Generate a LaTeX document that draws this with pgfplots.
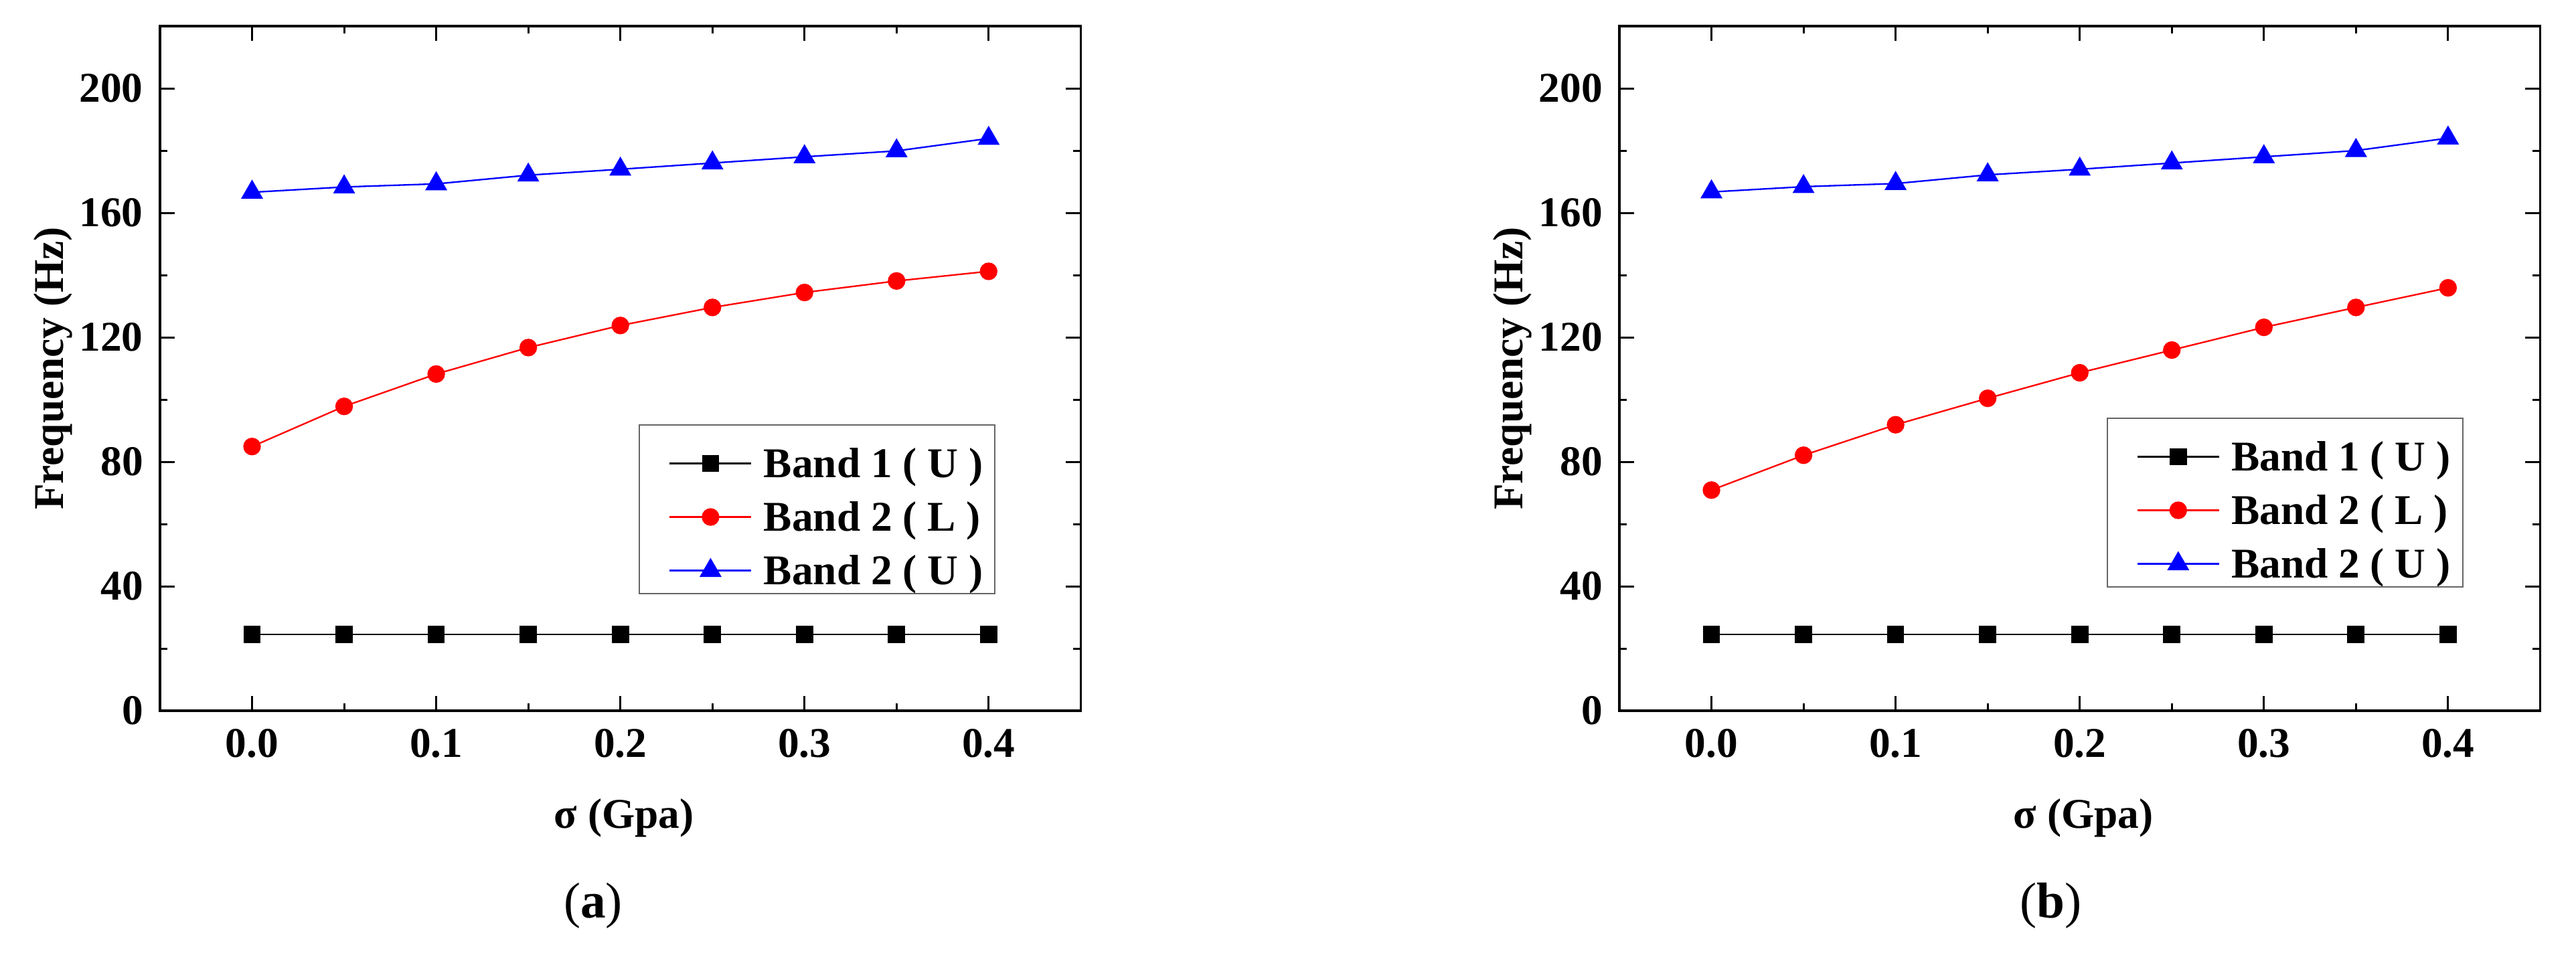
\documentclass[border=0pt]{standalone}
\usepackage{fontspec}
\setmainfont{Liberation Serif}
\usepackage{pgfplots}
\pgfplotsset{compat=1.18}

\pgfplotsset{
  myax/.style={
    scale only axis, width=206.3pt, height=153.45pt, anchor=south west,
    clip=false,
    xmin=-0.05, xmax=0.45, ymin=0, ymax=220,
    xtick={0,0.1,0.2,0.3,0.4}, minor x tick num=1,
    ytick={0,40,80,120,160,200}, minor y tick num=1,
    tick align=inside, major tick length=3.3pt, minor tick length=1.65pt,
    axis line style={line width=0.5pt},
    tick style={line width=0.45pt, black},
    /pgf/number format/assume math mode=true,
    tick label style={font=\fontsize{9.5}{11}\selectfont\bfseries},
    x tick label style={inner sep=0pt, yshift=-3.9pt, /pgf/number format/.cd, fixed, fixed zerofill, precision=1, /tikz/.cd},
    y tick label style={inner sep=0pt, xshift=-3.6pt},
    xlabel={\textbf{σ (Gpa)}},
    ylabel={\textbf{Frequency (Hz)}},
    label style={font=\fontsize{9.5}{11}\selectfont},
    x label style={at={(axis description cs:0.504,-0.1711)}, anchor=base, inner sep=0pt},
    y label style={at={(axis description cs:-0.105,0.5)}, rotate=0, anchor=base, inner sep=0pt},
    legend cell align=left,
    legend image code/.code={\path (0pt,0pt); \draw[mark repeat=2,mark phase=2] plot coordinates {(3.9pt,3.2pt) (13.05pt,3.2pt) (22.2pt,3.2pt)};},
    legend style={anchor=center, draw=black!60, line width=0.3pt, inner xsep=2.7pt, inner ysep=1pt, row sep=0.2pt, column sep=2.6pt,
      cells={anchor=base west},
      nodes={inner sep=0pt, text height=10.9pt, text depth=0.9pt, font=\fontsize{9.5}{11}\selectfont\bfseries}},
  },
  b1/.style={black, line width=0.35pt, mark=square*, mark size=1.75pt, mark options={solid}},
  b2l/.style={red, line width=0.35pt, mark=*, mark size=1.8pt, mark options={solid}},
  b2u/.style={blue, line width=0.35pt, mark=triangle*, mark size=2.5pt, mark options={solid}},
}

\begin{document}
\begin{tikzpicture}
\path[use as bounding box] (0,0) rectangle (577.2pt,214.8pt);

\begin{axis}[myax, at={(35.85pt,55.5pt)},
  legend style={at={(axis description cs:0.7138,0.2947)}}]
\addplot[b1] coordinates {(0,24.5) (0.05,24.5) (0.1,24.5) (0.15,24.5) (0.2,24.5) (0.25,24.5) (0.3,24.5) (0.35,24.5) (0.4,24.5)};
\addlegendentry{Band 1 ( U )}
\addplot[b2l] coordinates {(0,84.9) (0.05,97.8) (0.1,108.2) (0.15,116.7) (0.2,123.8) (0.25,129.6) (0.3,134.4) (0.35,138.1) (0.4,141.2)};
\addlegendentry{Band 2 ( L )}
\addplot[b2u] coordinates {(0,166.6) (0.05,168.3) (0.1,169.3) (0.15,172.1) (0.2,174.0) (0.25,176.0) (0.3,178.0) (0.35,179.9) (0.4,183.9)};
\addlegendentry{Band 2 ( U )}
\node[anchor=base, inner sep=0pt, font=\fontsize{11.3}{13}\selectfont] at (axis description cs:0.4705,-0.303) {(\textbf{a})};
\end{axis}

\begin{axis}[myax, at={(362.85pt,55.5pt)},
  legend style={at={(axis description cs:0.7228,0.3045)}}]
\addplot[b1] coordinates {(0,24.5) (0.05,24.5) (0.1,24.5) (0.15,24.5) (0.2,24.5) (0.25,24.5) (0.3,24.5) (0.35,24.5) (0.4,24.5)};
\addlegendentry{Band 1 ( U )}
\addplot[b2l] coordinates {(0,70.9) (0.05,82.1) (0.1,91.9) (0.15,100.4) (0.2,108.6) (0.25,115.9) (0.3,123.2) (0.35,129.6) (0.4,135.9)};
\addlegendentry{Band 2 ( L )}
\addplot[b2u] coordinates {(0,166.7) (0.05,168.4) (0.1,169.4) (0.15,172.2) (0.2,174.0) (0.25,176.0) (0.3,178.0) (0.35,180.0) (0.4,184.0)};
\addlegendentry{Band 2 ( U )}
\node[anchor=base, inner sep=0pt, font=\fontsize{11.3}{13}\selectfont] at (axis description cs:0.4688,-0.303) {(\textbf{b})};
\end{axis}
\end{tikzpicture}
\end{document}
